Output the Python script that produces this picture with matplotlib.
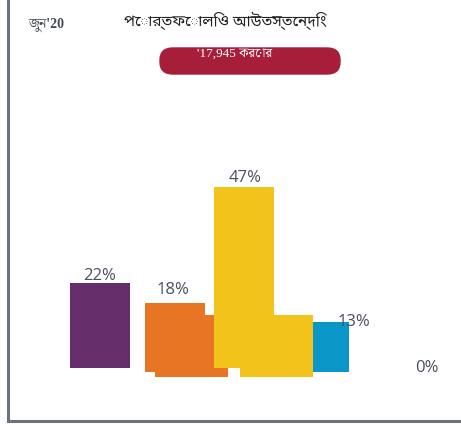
import matplotlib
matplotlib.use("Agg")
import matplotlib.pyplot as plt
from matplotlib.patches import FancyBboxPatch

# data
categories = ["A", "B", "C", "D", "E"]
values = [22, 18, 47, 13, 0]
labels = ["22%", "18%", "47%", "13%", "0%"]
colors = ["#652d6a", "#e87524", "#f1c31b", "#0b96c8", "#0b96c8"]
title = "পোর্তফোলিও আউতস্তেন্দিং"
date_label = "জুন'20"
total_label = "'17,945 করোর"

# layout (pixel x positions, per-bar baseline offsets in %)
centers = [100, 175, 244, 331, 427]
widths = [60, 60, 60, 36, 0]
bottoms = [0, -1.0, 0, -1.0, 0]
# decorative blocks behind the orange / yellow bars
extra_left = [155, 240]
extra_w = [73, 73]
extra_color = ["#e87524", "#f1c31b"]

W, H = 461, 428
fig = plt.figure(figsize=(W / 100, H / 100), dpi=100)

# axes: x in pixels, y in percent; baseline at y=368 px, 3.85 px per %
px = 3.85
y_lo, y_hi = -3, 60
base = 368
ax = fig.add_axes([0, (H - base - (-y_lo) * px) / H, 1, (y_hi - y_lo) * px / H])
ax.set_xlim(0, W)
ax.set_ylim(y_lo, y_hi)
ax.axis("off")

ax.bar([l + w / 2 for l, w in zip(extra_left, extra_w)], [16.1, 16.1], width=extra_w,
       bottom=-2.3, color=extra_color, zorder=1)
ax.bar(centers, values, width=widths, bottom=bottoms, color=colors, zorder=2)

lab_off = [2.0, 3.2, 2.3, 0.0, 0.0]
lab_x = [100, 173, 245, 354, 427]
for x, v, b, t, o in zip(lab_x, values, bottoms, labels, lab_off):
    ax.text(x, v + b + o, t, ha="center", va="center", fontsize=12,
            color="#4b4f60", family=["Open Sans", "DejaVu Sans"], zorder=3)

# frame lines
fig.add_artist(plt.Line2D([8 / W, 8 / W], [1, (H - 421) / H], color="#6b747a", lw=2.2))
fig.add_artist(plt.Line2D([8 / W, 1], [(H - 421) / H, (H - 421) / H], color="#6b747a", lw=2.2))

# header
fig.text(28 / W, 1 - 25 / H, date_label, ha="left", va="center", fontsize=10,
         fontweight="bold", color="#444a55", family=["Liberation Serif", "Noto Serif Bengali"])
fig.text(225 / W, 1 - 21 / H, title, ha="center", va="center", fontsize=11,
         color="#222222", family=["Noto Sans Bengali", "DejaVu Sans"])
pill = FancyBboxPatch((160 / W, 1 - 74 / H), 180 / W, 26 / H,
                      boxstyle="round,pad=0,rounding_size=0.028",
                      transform=fig.transFigure, color="#a71e3b")
fig.add_artist(pill)
fig.text(235 / W, 1 - 54 / H, total_label, ha="center", va="center", fontsize=9.5,
         color="white", family=["Liberation Serif", "Noto Serif Bengali"])

fig.savefig("out.png")
